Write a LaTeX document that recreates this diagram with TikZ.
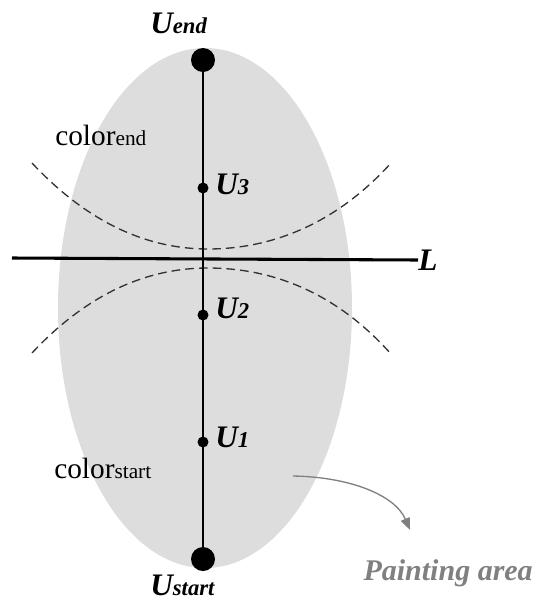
\documentclass[tikz,border=0pt]{standalone}
\usepackage{fontspec}
\setmainfont{Liberation Serif}
\usetikzlibrary{arrows.meta}
\definecolor{areagray}{RGB}{221,221,221}
\definecolor{txtgray}{RGB}{128,128,128}
\newcommand\sublab[1]{{\fontsize{17}{18}\selectfont #1}}
\newcommand\csub[1]{{\fontsize{16}{17}\selectfont #1}}
\begin{document}
\begin{tikzpicture}[x=0.75pt,y=-0.75pt,
  bigdot/.style={circle,fill=black,inner sep=0pt,minimum size=18pt},
  smalldot/.style={circle,fill=black,inner sep=0pt,minimum size=8.25pt},
  ulabel/.style={inner sep=0pt,anchor=base west,font=\fontsize{23.5}{25}\selectfont\bfseries\itshape},
  clabel/.style={inner sep=0pt,anchor=base west,font=\fontsize{22}{24}\selectfont},
  dashcurve/.style={dash pattern=on 6.5pt off 3.8pt,line width=1pt,black!80},
  axis/.style={line width=0.9pt},
  lline/.style={line width=2.3pt},
  grayarrow/.style={txtgray,line width=1pt,-{Triangle[length=9pt,width=7pt]}}]
\useasboundingbox (0,0) rectangle (536,601);
% painting area
\fill[areagray] (205,308) ellipse [x radius=147, y radius=260];
% dashed curves
\draw[dashcurve] (32,163) .. controls (90,225) and (150,249) .. (208,249)
  .. controls (270,249) and (335,225) .. (391,163);
\draw[dashcurve] (32,353) .. controls (90,291) and (150,268) .. (208,268)
  .. controls (270,268) and (335,291) .. (391,354);
% dots
\node[bigdot] (uend) at (203,60) {};
\node[bigdot] (ustart) at (203,559) {};
\node[smalldot] (u3) at (203,188) {};
\node[smalldot] (u2) at (203,315) {};
\node[smalldot] (u1) at (203,442) {};
\draw[axis] (uend) -- (ustart);
% line L
\coordinate (lleft) at (12,258);
\node[ulabel,anchor=west] (lab) at (418,260) {L};
\draw[lline] (lleft) -- (lab.west);
% labels
\node[ulabel] (luend) at (150,33) {U\sublab{end}};
\node[ulabel] (lustart) at (150,595) {U\sublab{start}};
\node[ulabel] (lu3) at (215,194) {U\sublab{3}};
\node[ulabel] (lu2) at (215,318) {U\sublab{2}};
\node[ulabel] (lu1) at (215,447) {U\sublab{1}};
\node[clabel] (cend) at (55,145) {color\csub{end}};
\node[clabel] (cstart) at (54,478) {color\csub{start}};
% painting area
\node[ulabel,anchor=base east,text=txtgray,font=\fontsize{22.5}{24}\selectfont\bfseries\itshape] (parea) at (533,580) {Painting area};
\coordinate (astart) at (293,476);
\coordinate (aend) at (410,530);
\draw[grayarrow] (astart) .. controls (350,477) and (395,495) .. (aend);
\end{tikzpicture}
\end{document}
